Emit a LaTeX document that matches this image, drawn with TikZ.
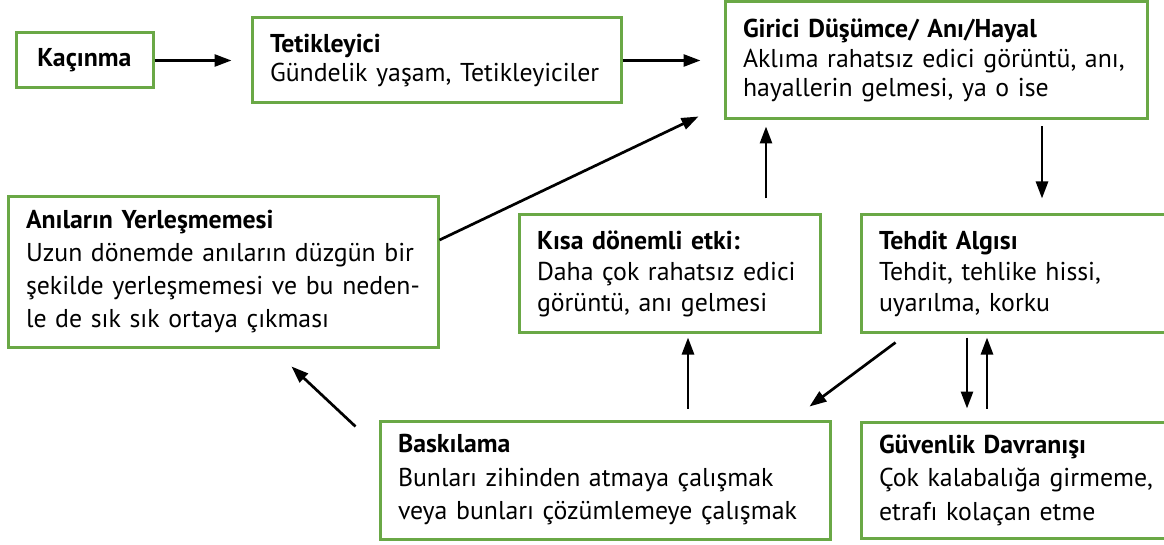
\documentclass[tikz,border=0pt]{standalone}
\usepackage{fontspec}
\setmainfont{PT Sans}
\usetikzlibrary{positioning, arrows.meta, calc}
\definecolor{kutuyesil}{RGB}{106,168,70}

\tikzset{
  kutu/.style={draw=kutuyesil, line width=3pt, align=left, inner xsep=18pt,
    inner ysep=0pt, font=\fontsize{25.8}{29.5}\selectfont},
  genis/.style={font=\fontsize{25.8}{#1}\selectfont},
  ok/.style={-{Triangle[length=17pt,width=12pt]}, line width=2.7pt},
}

\begin{document}
\begin{tikzpicture}[x=1pt,y=1pt]
  \useasboundingbox[fill=white] (0,0) rectangle (1164,544);
  % ust sira
  \node[kutu, align=center, minimum width=137pt, minimum height=55pt] (kacinma) at (84.5,483.5)
    {\textbf{Kaçınma}};
  \node[kutu, text width=333pt, minimum height=85pt] (tetik) at (436.5,483.5)
    {\textbf{Tetikleyici}\\Gündelik yaşam, Tetikleyiciler};
  \node[kutu, text width=386pt, minimum height=117pt] (girici) at (936,483.5)
    {\textbf{Girici Düşümce/ Anı/Hayal}\\Aklıma rahatsız edici görüntü, anı,\\hayallerin gelmesi, ya o ise};
  % orta sira
  \node[kutu, genis=33, text width=394pt, minimum height=150pt] (anilar) at (223,272)
    {\textbf{Anıların Yerleşmemesi}\\Uzun dönemde anıların düzgün bir\\şekilde yerleşmemesi ve bu neden-\\le de sık sık ortaya çıkması};
  \node[kutu, genis=31, text width=265pt, minimum height=117pt] (kisa) at (669.5,270.5)
    {\textbf{Kısa dönemli etki:}\\Daha çok rahatsız edici\\görüntü, anı gelmesi};
  \node[kutu, genis=31, text width=283pt, minimum height=117pt] (tehdit) at (1020.5,270.5)
    {\textbf{Tehdit Algısı}\\Tehdit, tehlike hissi,\\uyarılma, korku};
  % alt sira
  \node[kutu, genis=33.5, text width=414pt, minimum height=118pt] (bask) at (605,64)
    {\textbf{Baskılama}\\Bunları zihinden atmaya çalışmak\\veya bunları çözümlemeye çalışmak};
  \node[kutu, genis=33.5, text width=283pt, minimum height=116pt] (guven) at (1020.5,64)
    {\textbf{Güvenlik Davranışı}\\Çok kalabalığa girmeme,\\etrafı kolaçan etme};

  \draw[ok] (kacinma.east) -- ([xshift=-19pt]tetik.west);
  \draw[ok] (tetik.east) -- ([xshift=-23pt]girici.west);
  \draw[ok] ([yshift=32pt]anilar.east) -- ([shift={(-25pt,4pt)}]girici.south west);
  \draw[ok] ([shift={(96.5pt,15pt)}]kisa.north) -- ([shift={(-170pt,-6pt)}]girici.south);
  \draw[ok] ([shift={(106pt,-6pt)}]girici.south) -- ([shift={(21.5pt,15pt)}]tehdit.north);
  \draw[ok] ([shift={(-53.5pt,-4pt)}]tehdit.south) -- ([shift={(-53.5pt,12pt)}]guven.north);
  \draw[ok] ([shift={(-33.5pt,12pt)}]guven.north) -- ([shift={(-33.5pt,-4pt)}]tehdit.south);
  \draw[ok] ([shift={(36pt,-9pt)}]tehdit.south west) -- ([shift={(-22pt,13pt)}]bask.north east);
  \draw[ok] ([shift={(83pt,11pt)}]bask.north) -- ([shift={(18.5pt,-4pt)}]kisa.south);
  \draw[ok] ([shift={(-23pt,-7pt)}]bask.north west) -- ([shift={(-148pt,-18pt)}]anilar.south east);
\end{tikzpicture}
\end{document}
